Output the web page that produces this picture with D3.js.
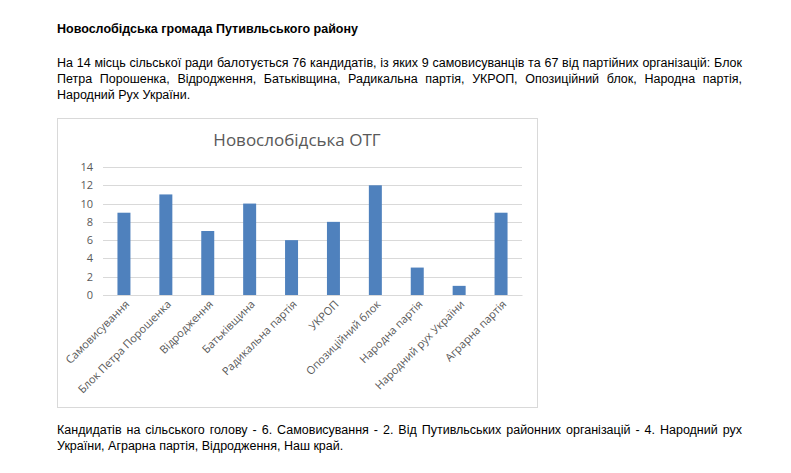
<!DOCTYPE html>
<html>
<head>
<meta charset="utf-8">
<script src="https://cdn.jsdelivr.net/npm/d3@7"></script>
<style>
  body { margin: 0; background: #fff; width: 791px; height: 473px; overflow: hidden; position: relative; }
  .txt { position: absolute; left: 57px; width: 685px; font-family: "Liberation Sans", Arial, sans-serif; font-size: 12.5px; color: #000; line-height: 16px; white-space: nowrap; }
  .j { text-align: justify; text-align-last: justify; }
  .h { font-weight: bold; }
  #chart { position: absolute; left: 0; top: 0; }
</style>
</head>
<body>
<div class="txt h" style="top:21px">Новослобідська громада Путивльського району</div>
<div class="txt j" style="top:55px">На 14 місць сільської ради балотується 76 кандидатів, із яких 9 самовисуванців та 67 від партійних організацій: Блок</div>
<div class="txt j" style="top:71px">Петра Порошенка, Відродження, Батьківщина, Радикальна партія, УКРОП, Опозиційний блок, Народна партія,</div>
<div class="txt" style="top:87px">Народний Рух України.</div>
<div class="txt j" style="top:422px">Кандидатів на сільського голову - 6. Самовисування - 2. Від Путивльських районних організацій - 4. Народний рух</div>
<div class="txt" style="top:438px">України, Аграрна партія, Відродження, Наш край.</div>
<svg id="chart" width="791" height="473"></svg>
<script>
// categories and values
const parties = ["Самовисування", "Блок Петра Порошенка", "Відродження", "Батьківщина",
  "Радикальна партія", "УКРОП", "Опозиційний блок", "Народна партія",
  "Народний рух України", "Аграрна партія"];
const candidates = [9, 11, 7, 10, 6, 8, 12, 3, 1, 9];
const yTicks = [0, 2, 4, 6, 8, 10, 12, 14];
const chartTitle = "Новослобідська ОТГ";

var svg = d3.select("#chart");

// chart frame
svg.append("rect")
  .attr("x", 57.5).attr("y", 118.5)
  .attr("width", 480).attr("height", 289)
  .attr("fill", "#fff").attr("stroke", "#d9d9d9");

svg.append("text")
  .attr("x", 297).attr("y", 146)
  .attr("text-anchor", "middle")
  .style("font-family", "'Open Sans', sans-serif")
  .style("font-size", "17px")
  .attr("fill", "#595959")
  .text(chartTitle);

var x = d3.scaleBand()
  .domain(parties)
  .range([103, 522])
  .paddingInner(0.69)
  .paddingOuter(0.345);

var y = d3.scaleLinear()
  .domain([0, 14])
  .range([295, 167]);

// gridlines
svg.append("g")
  .selectAll("line")
  .data(yTicks)
  .enter().append("line")
  .attr("x1", 103).attr("x2", 522)
  .attr("y1", d => Math.round(y(d)) + 0.5)
  .attr("y2", d => Math.round(y(d)) + 0.5)
  .attr("stroke", "#d9d9d9");

var yAxis = d3.axisLeft(y).tickValues(yTicks).tickSize(0).tickPadding(10);
var gy = svg.append("g")
  .attr("transform", "translate(103,0)")
  .call(yAxis);
gy.select(".domain").remove();
gy.selectAll("text")
  .style("font-family", "'Open Sans', sans-serif")
  .style("font-size", "11px")
  .attr("fill", "#595959");

svg.selectAll(".bar")
  .data(candidates)
  .enter().append("rect")
  .attr("class", "bar")
  .attr("x", (d, i) => x(parties[i]))
  .attr("width", x.bandwidth())
  .attr("y", d => y(d))
  .attr("height", d => y(0) - y(d))
  .attr("fill", "#4f81bd");

var xAxis = d3.axisBottom(x).tickSize(0).tickPadding(0);
var gx = svg.append("g")
  .attr("transform", "translate(0,295)")
  .call(xAxis);
gx.select(".domain").attr("stroke", "#d9d9d9");
gx.selectAll("text")
  .style("font-family", "'Open Sans', sans-serif")
  .style("font-size", "11px")
  .attr("fill", "#595959")
  .attr("text-anchor", "end")
  .attr("dy", null)
  .attr("transform", "translate(6,10) rotate(-45)");
</script>
</body>
</html>
